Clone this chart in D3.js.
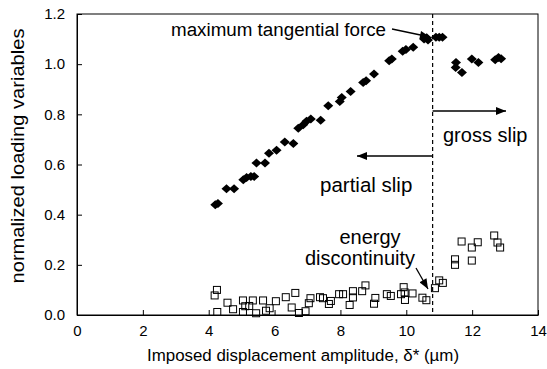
<!DOCTYPE html>
<html>
<head>
<meta charset="utf-8">
<script src="https://d3js.org/d3.v7.min.js"></script>
<style>
  body { margin: 0; background: #fff; }
  text { font-family: Arial, "Liberation Sans", sans-serif; fill: #000; }
</style>
</head>
<body>
<div id="plot"></div>
<script>
// Chart size and margins
var w = 547;
var h = 369;
var margin = { top: 14, right: 9, bottom: 54, left: 77 };

// Maximum tangential force (filled diamonds): [amplitude, normalized value]
var forceData = [
    [4.20, 0.440], [4.28, 0.445], [4.54, 0.503], [4.77, 0.503], [5.05, 0.539],
    [5.15, 0.548], [5.28, 0.552], [5.38, 0.552], [5.45, 0.606], [5.71, 0.606],
    [5.83, 0.645], [6.06, 0.657], [6.31, 0.690], [6.57, 0.684], [6.72, 0.745],
    [6.87, 0.758], [6.97, 0.772], [7.10, 0.781], [7.40, 0.776], [7.63, 0.834],
    [7.98, 0.851], [8.04, 0.867], [8.31, 0.891], [8.69, 0.927], [8.78, 0.934],
    [9.02, 0.961], [9.48, 1.014], [9.56, 1.021], [9.89, 1.051], [9.99, 1.058],
    [10.21, 1.067], [10.54, 1.100], [10.62, 1.105], [10.66, 1.096], [10.90, 1.107],
    [11.00, 1.107], [11.10, 1.107], [11.51, 1.007], [11.50, 0.987], [11.69, 0.967],
    [11.99, 1.021], [12.19, 1.007], [12.70, 1.018], [12.80, 1.027], [12.88, 1.022]
];

// Energy (open squares): [amplitude, normalized value]
var energyData = [
    [4.18, 0.078], [4.25, 0.100], [4.26, 0.012], [4.57, 0.049], [4.74, 0.023],
    [5.04, 0.058], [5.11, 0.035], [5.04, 0.012], [5.23, 0.036], [5.34, 0.058],
    [5.44, 0.007], [5.65, 0.058], [5.74, 0.017], [5.85, 0.027], [6.04, 0.055],
    [6.34, 0.071], [6.63, 0.088], [6.52, 0.030], [6.74, 0.008], [6.94, 0.015],
    [7.09, 0.067], [7.04, 0.047], [7.38, 0.071], [7.47, 0.067], [7.65, 0.044],
    [7.71, 0.056], [7.96, 0.083], [8.08, 0.083], [8.28, 0.040], [8.38, 0.095],
    [8.38, 0.070], [8.66, 0.095], [8.76, 0.118], [9.02, 0.045], [9.06, 0.068],
    [9.41, 0.083], [9.53, 0.076], [9.84, 0.083], [9.92, 0.111], [9.95, 0.090],
    [9.96, 0.060], [10.19, 0.086], [10.49, 0.069], [10.61, 0.059], [10.87, 0.107],
    [11.00, 0.138], [11.11, 0.128], [11.48, 0.222], [11.48, 0.200], [11.68, 0.293],
    [11.99, 0.269], [11.99, 0.217], [12.17, 0.290], [12.67, 0.317], [12.77, 0.289],
    [12.85, 0.269]
];

// Axis ticks and the transition amplitude
var xTicks = [0, 2, 4, 6, 8, 10, 12, 14];
var yTicks = [0, 0.2, 0.4, 0.6, 0.8, 1.0, 1.2];
var transition = 10.8;

// Scales
var xScale = d3.scaleLinear()
               .domain([0, 14])
               .range([margin.left, w - margin.right]);

var yScale = d3.scaleLinear()
               .domain([0, 1.2])
               .range([h - margin.bottom, margin.top]);

// SVG
var svg = d3.select("#plot")
            .append("svg")
            .attr("width", w)
            .attr("height", h);

// Arrowhead marker
svg.append("defs").append("marker")
   .attr("id", "arrow")
   .attr("viewBox", "0 0 10 8")
   .attr("refX", 10)
   .attr("refY", 4)
   .attr("markerWidth", 11)
   .attr("markerHeight", 8)
   .attr("markerUnits", "userSpaceOnUse")
   .attr("orient", "auto")
   .append("path")
   .attr("d", "M0,0L10,4L0,8Z")
   .attr("fill", "#000");

// Axes with inward ticks
var xAxis = d3.axisBottom(xScale)
              .tickValues(xTicks)
              .tickSizeInner(-5)
              .tickSizeOuter(0)
              .tickPadding(10)
              .tickFormat(d3.format("d"));

var yAxis = d3.axisLeft(yScale)
              .tickValues(yTicks)
              .tickSizeInner(-5)
              .tickSizeOuter(0)
              .tickPadding(12)
              .tickFormat(d3.format(".1f"));

svg.append("g")
   .attr("transform", "translate(0," + (h - margin.bottom) + ")")
   .call(xAxis);

svg.append("g")
   .attr("transform", "translate(" + margin.left + ",0)")
   .call(yAxis);

svg.selectAll(".tick text")
   .attr("font-size", "15px")
   .attr("font-family", "Arial, 'Liberation Sans', sans-serif");
svg.selectAll(".domain, .tick line").attr("stroke", "#000");

// Frame around the plot area
svg.append("rect")
   .attr("x", margin.left)
   .attr("y", margin.top)
   .attr("width", w - margin.left - margin.right)
   .attr("height", h - margin.top - margin.bottom)
   .attr("fill", "none")
   .attr("stroke", "#000")
   .attr("stroke-width", 1);

// Dashed transition line
svg.append("line")
   .attr("x1", xScale(transition))
   .attr("x2", xScale(transition))
   .attr("y1", yScale(1.2))
   .attr("y2", yScale(0))
   .attr("stroke", "#000")
   .attr("stroke-width", 1.2)
   .attr("stroke-dasharray", "4,3");

// Open squares (energy)
svg.selectAll("rect.energy")
   .data(energyData)
   .enter()
   .append("rect")
   .attr("class", "energy")
   .attr("x", function(d) { return xScale(d[0]) - 3.5; })
   .attr("y", function(d) { return yScale(d[1]) - 3.5; })
   .attr("width", 7)
   .attr("height", 7)
   .attr("fill", "none")
   .attr("stroke", "#000")
   .attr("stroke-width", 1);

// Filled diamonds (tangential force)
svg.selectAll("path.force")
   .data(forceData)
   .enter()
   .append("path")
   .attr("class", "force")
   .attr("d", "M0,-4.5L5,0L0,4.5L-5,0Z")
   .attr("transform", function(d) { return "translate(" + xScale(d[0]) + "," + yScale(d[1]) + ")"; })
   .attr("fill", "#000");

// Annotations
function arrow(x1, y1, x2, y2) {
    svg.append("line")
       .attr("x1", x1).attr("y1", y1)
       .attr("x2", x2).attr("y2", y2)
       .attr("stroke", "#000")
       .attr("stroke-width", 1.3)
       .attr("marker-end", "url(#arrow)");
}

function label(x, y, txt, size, anchor) {
    svg.append("text")
       .attr("x", x)
       .attr("y", y)
       .attr("text-anchor", anchor || "start")
       .attr("font-size", size + "px")
       .text(txt);
}

label(171, 36, "maximum tangential force", 18.8);
arrow(392, 29, 430, 37);

label(443, 142, "gross slip", 20);
arrow(xScale(transition), 111, 506, 111);

arrow(xScale(transition), 156, 357, 156);
label(320, 192, "partial slip", 20.5);

label(370, 244, "energy", 20, "middle");
label(360, 265, "discontinuity", 20, "middle");
arrow(416, 268, 428, 289);

// Axis titles
svg.append("text")
   .attr("x", 303)
   .attr("y", 361)
   .attr("text-anchor", "middle")
   .attr("font-size", "16.9px")
   .text("Imposed displacement amplitude, \u03b4* (\u00b5m)");

svg.append("text")
   .attr("transform", "translate(24," + 156 + ") rotate(-90)")
   .attr("text-anchor", "middle")
   .attr("font-size", "19px")
   .attr("textLength", 255)
   .attr("lengthAdjust", "spacingAndGlyphs")
   .text("normalized loading variables");
</script>
</body>
</html>
